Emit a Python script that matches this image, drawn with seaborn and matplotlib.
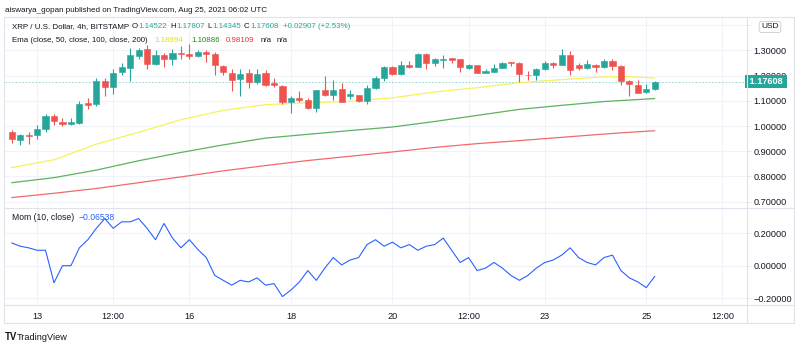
import numpy as np
import pandas as pd
import matplotlib
matplotlib.use("Agg")
import matplotlib.pyplot as plt
import matplotlib.transforms as mtrans
from matplotlib.lines import Line2D
import seaborn as sns

# ---------------- data ----------------
opens = [0.976, 0.946, 0.965, 0.966, 0.988, 1.038, 1.017, 1.008, 1.013, 1.090,
         1.087, 1.177, 1.153, 1.214, 1.230, 1.278, 1.304, 1.247, 1.280, 1.267,
         1.290, 1.287, 1.278, 1.294, 1.287, 1.238, 1.212, 1.185, 1.210, 1.175,
         1.209, 1.169, 1.160, 1.097, 1.110, 1.103, 1.070, 1.143, 1.123, 1.146,
         1.120, 1.123, 1.099, 1.149, 1.189, 1.235, 1.206, 1.242, 1.235, 1.286,
         1.251, 1.261, 1.268, 1.265, 1.231, 1.242, 1.212, 1.216, 1.231, 1.254,
         1.251, 1.204, 1.201, 1.228, 1.251, 1.243, 1.280, 1.241, 1.230, 1.243,
         1.234, 1.257, 1.238, 1.177, 1.164, 1.135, 1.14522]
highs = [0.983, 0.968, 0.976, 1.005, 1.049, 1.049, 1.032, 1.032, 1.098, 1.111,
         1.192, 1.192, 1.228, 1.250, 1.311, 1.311, 1.320, 1.300, 1.291, 1.307,
         1.317, 1.327, 1.300, 1.300, 1.294, 1.243, 1.228, 1.228, 1.228, 1.228,
         1.222, 1.189, 1.163, 1.119, 1.140, 1.110, 1.143, 1.200, 1.183, 1.169,
         1.143, 1.123, 1.163, 1.198, 1.238, 1.238, 1.259, 1.259, 1.288, 1.291,
         1.269, 1.282, 1.269, 1.267, 1.246, 1.242, 1.225, 1.246, 1.255, 1.255,
         1.255, 1.217, 1.230, 1.257, 1.254, 1.304, 1.296, 1.251, 1.261, 1.247,
         1.265, 1.265, 1.241, 1.181, 1.181, 1.168, 1.17807]
lows = [0.934, 0.926, 0.927, 0.947, 0.976, 1.005, 1.000, 1.005, 1.008, 1.066,
        1.078, 1.119, 1.128, 1.204, 1.177, 1.265, 1.225, 1.241, 1.234, 1.243,
        1.267, 1.265, 1.274, 1.254, 1.204, 1.204, 1.138, 1.119, 1.152, 1.168,
        1.160, 1.156, 1.087, 1.050, 1.097, 1.067, 1.057, 1.119, 1.103, 1.094,
        1.106, 1.097, 1.087, 1.146, 1.180, 1.202, 1.202, 1.229, 1.233, 1.225,
        1.238, 1.229, 1.251, 1.216, 1.227, 1.209, 1.209, 1.213, 1.229, 1.238,
        1.176, 1.181, 1.181, 1.224, 1.230, 1.241, 1.204, 1.221, 1.225, 1.214,
        1.230, 1.221, 1.161, 1.118, 1.130, 1.132, 1.14345]
closes = [0.947, 0.963, 0.962, 0.988, 1.038, 1.019, 1.008, 1.017, 1.089, 1.085,
          1.177, 1.153, 1.212, 1.233, 1.280, 1.303, 1.247, 1.280, 1.267, 1.290,
          1.284, 1.278, 1.294, 1.287, 1.241, 1.214, 1.184, 1.208, 1.175, 1.208,
          1.163, 1.163, 1.097, 1.110, 1.103, 1.070, 1.143, 1.123, 1.143, 1.097,
          1.127, 1.099, 1.149, 1.189, 1.235, 1.206, 1.242, 1.235, 1.286, 1.249,
          1.265, 1.265, 1.262, 1.233, 1.242, 1.212, 1.217, 1.229, 1.251, 1.249,
          1.206, 1.201, 1.225, 1.250, 1.243, 1.280, 1.221, 1.230, 1.247, 1.234,
          1.257, 1.238, 1.177, 1.167, 1.132, 1.146, 1.17608]

ema_bars = [0, 5, 10, 15, 20, 25, 30, 35, 40, 45, 50, 55, 60, 65, 70, 73, 76]
ema50 = [0.835, 0.866, 0.928, 0.975, 1.025, 1.062, 1.085, 1.092, 1.098, 1.112,
         1.135, 1.152, 1.172, 1.184, 1.195, 1.196, 1.18994]
ema100 = [0.775, 0.795, 0.825, 0.862, 0.895, 0.925, 0.952, 0.967, 0.982, 0.996,
          1.018, 1.042, 1.066, 1.082, 1.097, 1.103, 1.10886]
ema200 = [0.716, 0.733, 0.752, 0.775, 0.798, 0.822, 0.843, 0.863, 0.880, 0.897,
          0.915, 0.930, 0.942, 0.955, 0.968, 0.975, 0.98109]

momentum = [0.14, 0.12, 0.11, 0.095, 0.095, -0.105, 0.0, 0.0, 0.11, 0.16,
            0.23, 0.29, 0.23, 0.27, 0.27, 0.29, 0.23, 0.16, 0.26, 0.17,
            0.11, 0.16, 0.10, 0.05, -0.06, -0.09, -0.12, -0.09, -0.10, -0.075,
            -0.12, -0.11, -0.19, -0.15, -0.10, -0.03, -0.09, -0.015, 0.05, 0.005,
            0.035, 0.05, 0.13, 0.16, 0.12, 0.145, 0.11, 0.13, 0.095, 0.12,
            0.13, 0.17, 0.095, 0.02, 0.05, -0.03, -0.015, 0.02, -0.015, -0.06,
            -0.09, -0.06, -0.015, 0.02, 0.035, 0.065, 0.11, 0.05, 0.02, 0.005,
            0.05, 0.065, -0.03, -0.075, -0.10, -0.135, -0.06538]

time_tick_bars = [3, 12, 21, 33, 45, 54, 63, 75, 84]
time_tick_labels = ["13", "12:00", "16", "18", "20", "12:00", "23", "25", "12:00"]
price_ticks = [0.7, 0.8, 0.9, 1.0, 1.1, 1.2, 1.3, 1.4]
price_labels = ["0.70000", "0.80000", "0.90000", "1.00000", "1.10000", "1.20000", "1.30000", ""]
mom_ticks = [-0.2, 0.0, 0.2]
mom_labels = ["\u22120.20000", "0.00000", "0.20000"]

# ---------------- style ----------------
sns.set_theme(style="white")
plt.rcParams["font.family"] = ["Liberation Sans", "DejaVu Sans"]

W, H = 800, 348
UP, DOWN = "#26a69a", "#ef5350"
TXT = "#131722"
GRID = "#f0f3fa"
BORDER = "#e0e3eb"
FS = 6.6
FSH = 5.7

fig = plt.figure(figsize=(W / 100, H / 100), dpi=100)
fig.patch.set_facecolor("white")

def fx(px):
    return px / W

def fy(py):
    return 1 - py / H

ax = fig.add_axes([fx(5), fy(208), fx(747) - fx(5), fy(18) - fy(208)])
axm = fig.add_axes([fx(5), fy(305), fx(747) - fx(5), fy(208) - fy(305)], sharex=ax)

df = pd.DataFrame({"bar": np.arange(len(closes)), "open": opens, "high": highs,
                   "low": lows, "close": closes, "mom": momentum})
df["color"] = np.where(df["close"] >= df["open"], UP, DOWN)

# candles
ax.vlines(df["bar"], df["low"], df["high"], colors=df["color"], linewidth=0.8, zorder=3)
body = (df["close"] - df["open"]).abs().clip(lower=0.002)
ax.bar(df["bar"], body, bottom=df[["open", "close"]].min(axis=1), width=0.72,
       color=df["color"], edgecolor=df["color"], linewidth=0.4, zorder=4)

# EMAs
ema_df = pd.DataFrame({"bar": ema_bars, "e50": ema50, "e100": ema100, "e200": ema200})
sns.lineplot(data=ema_df, x="bar", y="e50", ax=ax, color="#f7f25a", linewidth=0.9, zorder=2)
sns.lineplot(data=ema_df, x="bar", y="e100", ax=ax, color="#5cb360", linewidth=0.9, zorder=2)
sns.lineplot(data=ema_df, x="bar", y="e200", ax=ax, color="#f06a6a", linewidth=0.9, zorder=2)

# last price dashed line
ax.axhline(closes[-1], color=UP, linewidth=0.6, linestyle=(0, (2, 2)), alpha=0.55, zorder=1)

# momentum
sns.lineplot(data=df, x="bar", y="mom", ax=axm, color="#2962ff", linewidth=0.8)

# axes limits
x0, x1 = -0.79, 86.9
ax.set_xlim(x0, x1)
ax.set_ylim(1 + (126 - 208) / 252, 1 + (126 - 18) / 252)
axm.set_ylim((265.7 - 305) / 162.5, (265.7 - 208) / 162.5)

for a, ticks, labels in ((ax, price_ticks, price_labels), (axm, mom_ticks, mom_labels)):
    a.set_facecolor("white")
    for s in a.spines.values():
        s.set_visible(False)
    a.set_xlabel("")
    a.set_ylabel("")
    a.yaxis.tick_right()
    a.set_yticks(ticks)
    a.set_yticklabels(labels)
    a.tick_params(axis="y", which="both", right=True, length=3, width=0.6,
                  color=BORDER, pad=1.5, labelsize=FS, labelcolor=TXT)
    a.set_xticks(time_tick_bars)
    a.grid(True, color=GRID, linewidth=0.8)
    a.set_axisbelow(True)

ax.tick_params(axis="x", which="both", bottom=False, labelbottom=False)
axm.set_xticklabels(time_tick_labels)
axm.tick_params(axis="x", which="both", bottom=False, length=0, pad=5,
                labelsize=FS, labelcolor=TXT)

# price label on axis
blend = mtrans.blended_transform_factory(ax.transAxes, ax.transData)
ax.text(1.0, closes[-1], " 1.17608 ", transform=blend, ha="left", va="center",
        fontsize=FS, color="white", fontweight="bold", clip_on=False, zorder=20,
        bbox=dict(boxstyle="square,pad=0.25", fc=UP, ec="none"))

# USD box
fig.text(fx(770), fy(27), "USD", ha="center", va="center", fontsize=FS - 0.6, color=TXT,
         zorder=30, bbox=dict(boxstyle="round,pad=0.25,rounding_size=0.3", fc="white",
                              ec="#c9ccd3", lw=0.6))

# frame lines
def hline(y, xa, xb):
    fig.add_artist(Line2D([fx(xa), fx(xb)], [fy(y), fy(y)], color=BORDER, lw=0.8))

def vline(x, ya, yb):
    fig.add_artist(Line2D([fx(x), fx(x)], [fy(ya), fy(yb)], color=BORDER, lw=0.8))

hline(17, 4, 794)
hline(208, 4, 794)
hline(305, 4, 794)
hline(323, 4, 794)
vline(4, 17, 323)
vline(794, 17, 323)
vline(747, 17, 323)

# chained multi-colour texts
renderer = fig.canvas.get_renderer()

def chain(x, y, parts, size=FSH, weight="normal"):
    for s, c, gap in parts:
        t = fig.text(fx(x), fy(y), s, color=c, fontsize=size, ha="left", va="center",
                     fontweight=weight)
        x += t.get_window_extent(renderer=renderer).width + gap

fig.text(fx(5), fy(10), "aiswarya_gopan published on TradingView.com, Aug 25, 2021 06:02 UTC",
         ha="left", va="center", fontsize=FSH + 0.1, color=TXT)

chain(12, 27, [("XRP / U.S. Dollar, 4h, BITSTAMP", TXT, 3),
               ("O", TXT, 0.3), ("1.14522", UP, 3),
               ("H", TXT, 0.3), ("1.17807", UP, 3),
               ("L", TXT, 0.3), ("1.14345", UP, 3),
               ("C", TXT, 0.3), ("1.17608", UP, 5),
               ("+0.02907 (+2.53%)", UP, 0)])
chain(12, 40, [("Ema (close, 50, close, 100, close, 200)", TXT, 7),
               ("1.18994", "#e8e000", 8),
               ("1.10886", "#1e8c1e", 6),
               ("0.98109", "#f23030", 6),
               ("n/a", TXT, 5), ("n/a", TXT, 0)])
chain(12, 218, [("Mom (10, close)", TXT, 4), ("\u22120.06538", "#2962ff", 0)], size=6.2)

# logo
chain(5, 337, [("TV", TXT, 2)], size=FS + 0.3, weight="bold")
fig.text(fx(17), fy(337), "TradingView", ha="left", va="center", fontsize=FS, color=TXT)

fig.savefig("out.png", dpi=100, facecolor="white")
